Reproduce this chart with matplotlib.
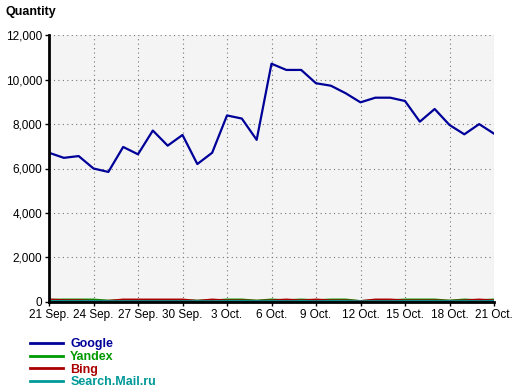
import matplotlib
matplotlib.use("Agg")
import matplotlib.pyplot as plt

# daily values, 21 Sep .. 21 Oct
google = [6710, 6480, 6560, 6000, 5845, 6970, 6640, 7710, 7030, 7510,
          6200, 6710, 8390, 8250, 7290, 10720, 10440, 10440, 9840, 9730,
          9390, 8980, 9190, 9190, 9040, 8110, 8680, 7960, 7540, 8000, 7570]
yandex = [70, 80, 80, 80, 30, 40, 40, 40, 40, 40,
          30, 40, 80, 80, 30, 80, 50, 80, 50, 80,
          80, 10, 50, 50, 80, 80, 80, 30, 80, 50, 80]
bing = [80, 50, 50, 20, 20, 80, 80, 80, 80, 80,
        20, 80, 40, 40, 20, 40, 80, 40, 80, 40,
        40, 10, 80, 80, 40, 40, 40, 20, 40, 80, 40]
mailru = [10, 10, 10, 10, 5, 5, 5, 5, 5, 5,
          5, 5, 10, 10, 5, 10, 5, 10, 5, 10,
          10, 0, 5, 5, 10, 10, 10, 5, 10, 5, 10]

tick_pos = list(range(0, 31, 3))
tick_labels = ['21 Sep.', '24 Sep.', '27 Sep.', '30 Sep.', '3 Oct.', '6 Oct.',
               '9 Oct.', '12 Oct.', '15 Oct.', '18 Oct.', '21 Oct.']
yticks = [0, 2000, 4000, 6000, 8000, 10000, 12000]

plt.rcParams['font.family'] = ['Liberation Sans', 'DejaVu Sans']
plt.rcParams['font.size'] = 8.5

fig = plt.figure(figsize=(5.2, 3.92), dpi=100)
ax = fig.add_axes([49/520, 1 - 301.7/392, 445/520, 266.4/392])
ax.set_facecolor('#f4f4f4')

x = range(len(google))
ax.plot(x, google, color='#000099', lw=1.6, label='Google')
ax.plot(x, yandex, color='#009900', lw=2, label='Yandex')
ax.plot(x, bing, color='#aa0000', lw=2, label='Bing')
ax.plot(x, mailru, color='#009999', lw=2, label='Search.Mail.ru')

ax.set_xlim(0, 30)
ax.set_ylim(0, 12000)
ax.set_xticks(tick_pos)
ax.set_xticklabels(tick_labels)
ax.set_yticks(yticks)
ax.set_yticklabels([f'{v:,}' for v in yticks])
ax.grid(True, color='#777777', linestyle=(0, (1, 3)), linewidth=0.8)
ax.tick_params(length=3, width=1, pad=2, colors='black')

for s in ['top', 'right']:
    ax.spines[s].set_visible(False)
for s in ['left', 'bottom']:
    ax.spines[s].set_linewidth(2)

fig.text(5/520, 1 - 12/392, 'Quantity', fontsize=9, fontweight='bold', va='center')

leg = fig.legend(loc='upper left', bbox_to_anchor=(24/520, 1 - 332/392),
                 frameon=False, handlelength=2.6, handletextpad=0.6,
                 labelspacing=0.05, borderpad=0, prop={'weight': 'bold', 'size': 9})
for line, text in zip(leg.get_lines(), leg.get_texts()):
    text.set_color(line.get_color())
    line.set_linewidth(2)

fig.savefig('out.png', dpi=100)
